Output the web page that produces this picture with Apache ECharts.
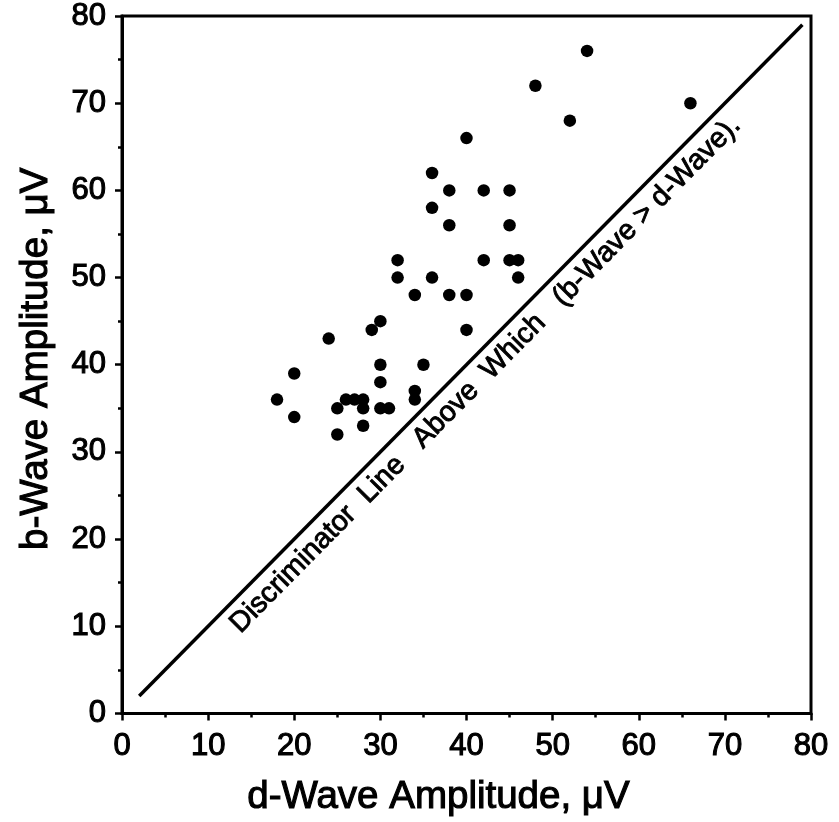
<!DOCTYPE html>
<html>
<head>
<meta charset="utf-8">
<script src="https://cdn.jsdelivr.net/npm/echarts@6/dist/echarts.min.js"></script>
<style>
html,body{margin:0;padding:0;background:#fff;}
#chart{width:839px;height:822px;}
</style>
</head>
<body>
<div id="chart"></div>
<script>
// d-Wave amplitude (x) and b-Wave amplitude (y), µV
const dWave = [18,20,20,24,25,25,26,27,28,28,28,29,30,30,30,30,31,32,32,34,34,34,35,36,36,36,38,38,38,40,40,40,42,42,45,45,45,46,46,48,52,54,66];
const bWave = [36,39,34,43,35,32,36,36,36,35,33,44,45,40,38,35,35,52,50,48,37,36,40,62,58,50,60,56,48,66,48,44,60,52,60,56,52,52,50,72,68,76,70];
// discriminator line endpoints [d, b]
const lineStart = [2, 2];
const lineEnd = [79, 79];
const xTicks = [0,10,20,30,40,50,60,70,80];
const yTicks = [0,10,20,30,40,50,60,70,80];
const xTitle = 'd-Wave Amplitude, \u03bcV';
const yTitle = 'b-Wave Amplitude, \u03bcV';
const lineLabel = 'Discriminator  Line   Above  Which   (b-Wave > d-Wave).';

const points = dWave.map((d, i) => [d, bWave[i]]);
const FONT = 'Liberation Sans, Arial, Helvetica, sans-serif';
const heavy = {textBorderColor: '#000', textBorderWidth: 1.1};

const chart = echarts.init(document.getElementById('chart'), null, {renderer: 'canvas'});
const axisCommon = {
  type: 'value',
  min: xTicks[0],
  max: xTicks[xTicks.length - 1],
  interval: xTicks[1] - xTicks[0],
  splitLine: {show: false},
  axisLine: {show: true, onZero: false, lineStyle: {color: '#000', width: 3}},
  axisTick: {show: true, length: 7, lineStyle: {color: '#000', width: 2.5}},
  minorTick: {show: true, splitNumber: 2, length: 4, lineStyle: {color: '#000', width: 2.5}},
  nameLocation: 'middle'
};
chart.setOption({
  animation: false,
  backgroundColor: '#fff',
  grid: {left: 122, right: 28, top: 15, bottom: 105, show: true, borderColor: '#000', borderWidth: 3, backgroundColor: 'transparent'},
  xAxis: Object.assign({}, axisCommon, {
    name: xTitle,
    nameGap: 64,
    nameTextStyle: Object.assign({fontFamily: FONT, fontSize: 38.5, color: '#000', padding: [0, 56, 0, 0]}, heavy),
    axisLabel: Object.assign({fontFamily: FONT, fontSize: 31, color: '#000', margin: 18}, heavy)
  }),
  yAxis: Object.assign({}, axisCommon, {
    min: yTicks[0], max: yTicks[yTicks.length - 1], interval: yTicks[1] - yTicks[0],
    name: yTitle,
    nameGap: 66,
    nameTextStyle: Object.assign({fontFamily: FONT, fontSize: 38.5, color: '#000', padding: [0, 0, 0, 12]}, heavy),
    axisLabel: Object.assign({fontFamily: FONT, fontSize: 31, color: '#000', margin: 16}, heavy)
  }),
  series: [
    {
      type: 'scatter',
      data: points,
      symbol: 'circle',
      symbolSize: 12.5,
      itemStyle: {color: '#000', opacity: 1},
      markLine: {
        silent: true,
        symbol: ['none', 'none'],
        lineStyle: {color: '#000', width: 3.5, type: 'solid', opacity: 1},
        label: Object.assign({
          show: true,
          position: 'insideMiddleBottom',
          formatter: lineLabel,
          fontFamily: FONT,
          fontSize: 28.5,
          color: '#000',
          distance: 6
        }, {textBorderColor: '#000', textBorderWidth: 0.9}),
        data: [[{coord: lineStart}, {coord: lineEnd}]]
      }
    }
  ]
});
</script>
</body>
</html>
